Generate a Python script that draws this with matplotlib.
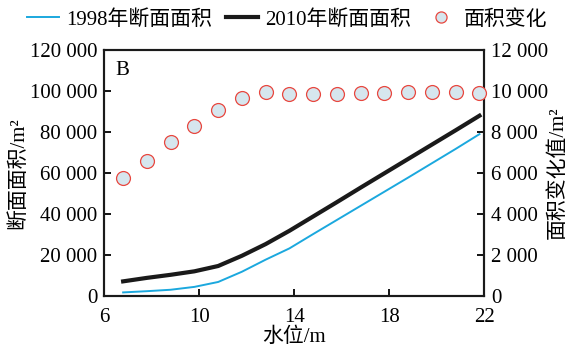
import numpy as np
import matplotlib.pyplot as plt
from matplotlib.lines import Line2D

plt.rcParams['font.family'] = ['Liberation Serif', 'Noto Sans CJK SC']
plt.rcParams['axes.unicode_minus'] = False

# water level (m)
level = [6.8, 7.8, 8.8, 9.8, 10.8, 11.8, 12.8, 13.8, 14.8, 15.8,
         16.8, 17.8, 18.8, 19.8, 20.8, 21.8]
# cross-section area 1998 / 2010 (m2)
area_1998 = [1700, 2300, 3000, 4400, 6800, 11800, 17700, 23200, 30200, 37100,
             44000, 50900, 57800, 64800, 71800, 79000]
area_2010 = [7100, 8800, 10300, 12000, 14600, 19600, 25300, 31800, 38800, 45800,
             52900, 59900, 66900, 73900, 80900, 88000]
# area change (m2)
area_change = [5780, 6600, 7500, 8300, 9090, 9650, 9950, 9860, 9850, 9860,
               9890, 9920, 9950, 9950, 9950, 9900]

left_ticks = [0, 20000, 40000, 60000, 80000, 100000, 120000]
right_ticks = [0, 2000, 4000, 6000, 8000, 10000, 12000]
x_ticks = [6, 10, 14, 18, 22]


def fmt(v):
    return f'{v:,}'.replace(',', ' ')


fig = plt.figure(figsize=(5.69, 3.51), dpi=100)
ax = fig.add_axes([0.183, 0.157, 0.668, 0.700])
ax2 = ax.twinx()

blue = '#1ba8de'
ax.plot(level, area_1998, color=blue, lw=1.4, zorder=3)
ax.plot(level, area_2010, color='#1a1a1a', lw=3.0, zorder=3,
        solid_joinstyle='round')
ax2.plot(level, area_change, 'o', ms=10, mfc='#d6e6ee', mec='#e8473f',
         mew=0.9, clip_on=False, zorder=4)

ax.set_xlim(6, 22)
ax.set_ylim(0, 120000)
ax2.set_ylim(0, 12000)
ax.set_xticks(x_ticks)
ax.set_yticks(left_ticks)
ax.set_yticklabels([fmt(v) for v in left_ticks])
ax2.set_yticks(right_ticks)
ax2.set_yticklabels([fmt(v) for v in right_ticks])

for a in (ax, ax2):
    for s in a.spines.values():
        s.set_linewidth(1.5)
        s.set_color('#1a1a1a')
ax.tick_params(axis='y', direction='in', length=5, width=1.3, labelsize=15, pad=5)
ax.tick_params(axis='x', direction='in', length=5, width=1.3, labelsize=15, pad=9)
ax2.tick_params(direction='in', length=5, width=1.3, labelsize=15, pad=5)

ax.set_xlabel('水位/m', fontsize=15, labelpad=0)
ax.set_ylabel('断面面积/m²', fontsize=15, labelpad=1)
ax2.set_ylabel('面积变化值/m²', fontsize=15, labelpad=0)
ax.text(0.03, 0.955, 'B', transform=ax.transAxes, fontsize=15, va='top')

handles = [
    Line2D([], [], color=blue, lw=1.4),
    Line2D([], [], color='#1a1a1a', lw=3.0),
    Line2D([], [], ls='none', marker='o', ms=8, mfc='#d6e6ee', mec='#e8473f', mew=0.9),
]
labels = ['1998年断面面积', '2010年断面面积', '面积变化']
fig.legend(handles, labels, loc='upper center', bbox_to_anchor=(0.505, 1.025),
           ncol=3, frameon=False, fontsize=15, handlelength=1.5,
           handletextpad=0.35, columnspacing=0.7)

fig.savefig('out.png', dpi=100)
